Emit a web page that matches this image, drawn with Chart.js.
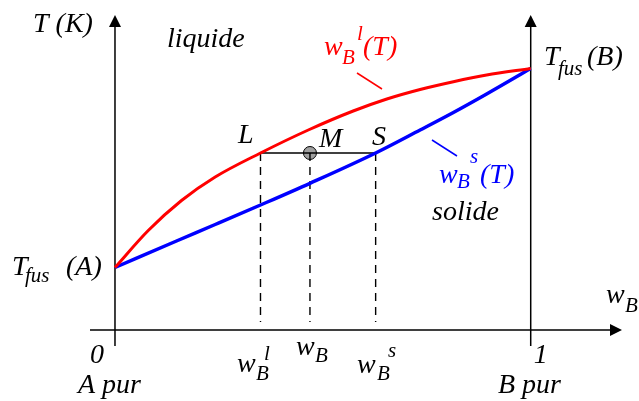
<!DOCTYPE html>
<html lang="fr">
<head>
    <meta charset="UTF-8">
    <script src="https://cdn.jsdelivr.net/npm/chart.js"></script>
    <title>Diagramme binaire solide-liquide</title>
    <style>
        body { margin: 0; background: #fff; }
        #wrap { width: 639px; height: 401px; }
    </style>
</head>
<body>

<div id="wrap">
    <canvas id="phaseChart" width="639" height="401"></canvas>
</div>

<script>
    // composition w_B (0 = A pur, 1 = B pur) et temperature (unites arbitraires)
    var wLiq = [0, 0.08, 0.16, 0.241, 0.35, 0.465, 0.573, 0.654, 0.734, 0.814, 0.894, 1];
    var tLiq = [62.5, 99.5, 129.5, 153, 177, 200, 219, 231, 240.5, 248.3, 255, 261.5];

    var wSol = [0, 0.148, 0.241, 0.35, 0.469, 0.627, 0.734, 0.814, 0.894, 1];
    var tSol = [62.5, 89, 105.5, 125, 146.7, 177, 200, 217.5, 236, 261.5];

    // conode L - M - S
    var wTie = [0.35, 0.469, 0.627]; // w_B^l, w_B, w_B^s
    var tTie = 177;
    var tDashEnd = 8;

    var xTicks = [0, 1];

    function pts(xs, ys) {
        return xs.map(function (x, i) { return { x: x, y: ys[i] }; });
    }

    var datasets = [
        {
            data: pts(wLiq, tLiq), showLine: true, borderColor: '#ff0000',
            borderWidth: 3, pointRadius: 0, cubicInterpolationMode: 'monotone'
        },
        {
            data: pts(wSol, tSol), showLine: true, borderColor: '#0000ff',
            borderWidth: 3.5, pointRadius: 0, cubicInterpolationMode: 'monotone'
        },
        {
            data: [{ x: wTie[0], y: tTie }, { x: wTie[2], y: tTie }], showLine: true,
            borderColor: '#000', borderWidth: 1.5, pointRadius: 0
        }
    ];
    // pointilles verticaux
    wTie.forEach(function (w) {
        datasets.push({
            data: [{ x: w, y: tTie }, { x: w, y: tDashEnd }], showLine: true,
            borderColor: '#000', borderWidth: 1.4, borderDash: [8, 6], pointRadius: 0
        });
    });
    // point M
    datasets.push({
        data: [{ x: wTie[1], y: tTie }], showLine: false, pointRadius: 6.5,
        pointBackgroundColor: '#a0a0a0', pointBorderColor: '#000', pointBorderWidth: 1
    });

    var SERIF = '"Liberation Serif", "Times New Roman", serif';
    var BIG = 28, SUB = 21;

    // textes : [texte, x, y, taille, couleur]
    var labels = [
        ['T (K)', 33, 32, BIG, '#000'],
        ['liquide', 167, 47, BIG, '#000'],
        ['L', 238, 143, BIG, '#000'],
        ['M', 319, 147, BIG, '#000'],
        ['S', 372, 145, BIG, '#000'],
        ['w', 324, 55, BIG, '#f00'], ['B', 342, 64, SUB, '#f00'], ['l', 357, 40, SUB, '#f00'], ['(T)', 363, 55, BIG, '#f00'],
        ['w', 439, 183, BIG, '#00f'], ['B', 457, 188, SUB, '#00f'], ['s', 470, 163, SUB, '#00f'], ['(T)', 480, 183, BIG, '#00f'],
        ['solide', 432, 220, BIG, '#000'],
        ['T', 544, 65, BIG, '#000'], ['fus', 558, 75, SUB, '#000'], ['(B)', 587, 65, BIG, '#000'],
        ['T', 12, 275, BIG, '#000'], ['fus', 25, 282, SUB, '#000'], ['(A)', 66, 275, BIG, '#000'],
        ['A pur', 78, 393, BIG, '#000'],
        ['B pur', 498, 393, BIG, '#000'],
        ['w', 606, 303, BIG, '#000'], ['B', 625, 312, SUB, '#000'],
        ['w', 237, 372, BIG, '#000'], ['B', 256, 380, SUB, '#000'], ['l', 264, 360, SUB, '#000'],
        ['w', 296, 355, BIG, '#000'], ['B', 315, 362, SUB, '#000'],
        ['w', 357, 373, BIG, '#000'], ['B', 377, 380, SUB, '#000'], ['s', 388, 357, SUB, '#000']
    ];

    var axesPlugin = {
        id: 'axes',
        beforeDatasetsDraw: function (chart) {
            var ctx = chart.ctx;
            var xs = chart.scales.x, ys = chart.scales.y, area = chart.chartArea;
            var x0 = xs.getPixelForValue(0), x1 = xs.getPixelForValue(1), y0 = ys.getPixelForValue(0);
            ctx.save();
            ctx.strokeStyle = '#000';
            ctx.fillStyle = '#000';
            ctx.lineWidth = 1.5;
            ctx.beginPath();
            ctx.moveTo(area.left, y0); ctx.lineTo(area.right - 10, y0);
            ctx.moveTo(x0, area.bottom); ctx.lineTo(x0, area.top + 10);
            ctx.moveTo(x1, area.bottom); ctx.lineTo(x1, area.top + 10);
            ctx.stroke();
            // fleches
            [x0, x1].forEach(function (x) {
                ctx.beginPath();
                ctx.moveTo(x, area.top); ctx.lineTo(x - 6, area.top + 12); ctx.lineTo(x + 6, area.top + 12);
                ctx.closePath(); ctx.fill();
            });
            ctx.beginPath();
            ctx.moveTo(area.right, y0); ctx.lineTo(area.right - 12, y0 - 6); ctx.lineTo(area.right - 12, y0 + 6);
            ctx.closePath(); ctx.fill();
            ctx.restore();
        },
        afterDraw: function (chart) {
            var ctx = chart.ctx;
            var xs = chart.scales.x;
            ctx.save();
            ctx.textBaseline = 'alphabetic';
            ctx.textAlign = 'left';
            // traits de rappel des etiquettes
            ctx.lineWidth = 1.5;
            ctx.strokeStyle = '#f00';
            ctx.beginPath(); ctx.moveTo(357, 73); ctx.lineTo(382, 89); ctx.stroke();
            ctx.strokeStyle = '#00f';
            ctx.beginPath(); ctx.moveTo(432, 140); ctx.lineTo(457, 156); ctx.stroke();

            labels.forEach(function (l) {
                ctx.font = 'italic ' + l[3] + 'px ' + SERIF;
                ctx.fillStyle = l[4];
                ctx.fillText(l[0], l[1], l[2]);
            });
            // graduations 0 et 1
            ctx.font = 'italic ' + BIG + 'px ' + SERIF;
            ctx.fillStyle = '#000';
            xTicks.forEach(function (t) {
                var px = xs.getPixelForValue(t);
                ctx.fillText(String(t), t === 0 ? px - 25 : px + 3, 363);
            });
            ctx.restore();
        }
    };

    new Chart(document.getElementById('phaseChart').getContext('2d'), {
        type: 'scatter',
        data: { datasets: datasets },
        options: {
            responsive: false,
            animation: false,
            layout: { padding: { left: 90, right: 17, top: 15, bottom: 55 } },
            plugins: { legend: { display: false }, tooltip: { enabled: false } },
            scales: {
                x: { type: 'linear', min: -0.0601, max: 1.2196, display: false },
                y: { type: 'linear', min: -16, max: 315, display: false }
            }
        },
        plugins: [axesPlugin]
    });
</script>

</body>
</html>
